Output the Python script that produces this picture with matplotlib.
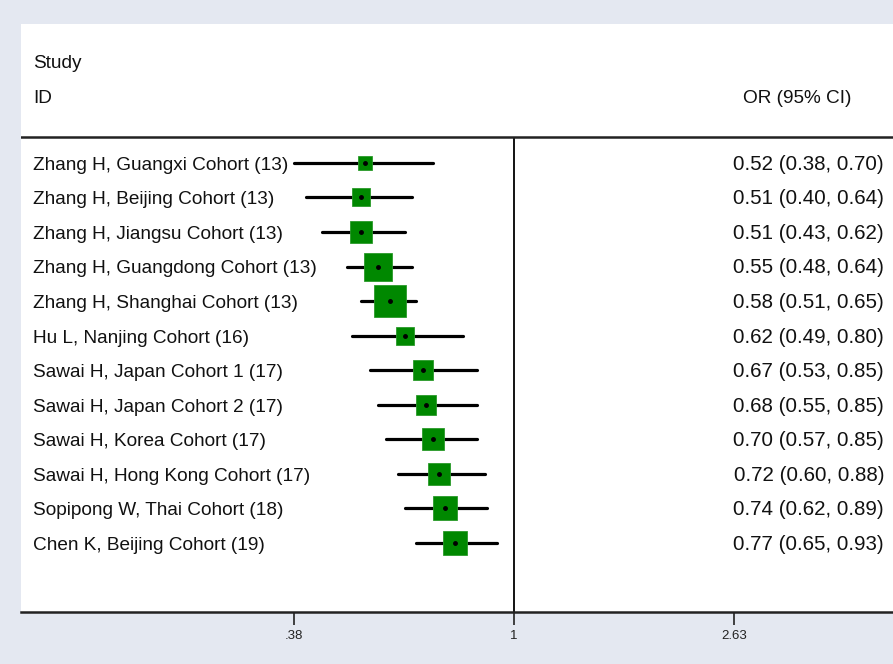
import numpy as np
import matplotlib
matplotlib.use("Agg")
import matplotlib.pyplot as plt
import matplotlib.transforms as mtransforms

plt.rcParams['font.family'] = ['Liberation Sans', 'DejaVu Sans']

# Study data
studies = [
    "Zhang H, Guangxi Cohort (13)",
    "Zhang H, Beijing Cohort (13)",
    "Zhang H, Jiangsu Cohort (13)",
    "Zhang H, Guangdong Cohort (13)",
    "Zhang H, Shanghai Cohort (13)",
    "Hu L, Nanjing Cohort (16)",
    "Sawai H, Japan Cohort 1 (17)",
    "Sawai H, Japan Cohort 2 (17)",
    "Sawai H, Korea Cohort (17)",
    "Sawai H, Hong Kong Cohort (17)",
    "Sopipong W, Thai Cohort (18)",
    "Chen K, Beijing Cohort (19)",
]
odds_ratio = [0.52, 0.51, 0.51, 0.55, 0.58, 0.62, 0.67, 0.68, 0.70, 0.72, 0.74, 0.77]
ci_lower = [0.38, 0.40, 0.43, 0.48, 0.51, 0.49, 0.53, 0.55, 0.57, 0.60, 0.62, 0.65]
ci_upper = [0.70, 0.64, 0.62, 0.64, 0.65, 0.80, 0.85, 0.85, 0.85, 0.88, 0.89, 0.93]
weight_pct = [3.7, 5.4, 8.7, 12.9, 16.9, 4.8, 6.0, 6.6, 8.0, 8.0, 9.5, 9.5]
tick_values = [0.38, 1.0, 2.63]
tick_labels = [".38", "1", "2.63"]

W, H = 893, 664
fig = plt.figure(figsize=(W / 100, H / 100), dpi=100)
fig.patch.set_facecolor("#E4E8F1")

left, right, top, bottom = 21, 893, 24, 612
ax = fig.add_axes([left / W, (H - bottom) / H, (right - left) / W, (bottom - top) / H])
ax.set_facecolor("white")

ax.set_xscale("log")
# x range chosen so that the OR scale is centred on 1
lo = np.exp((left - 514) / 227.5)
hi = np.exp((right - 514) / 227.5)
ax.set_xlim(lo, hi)

n = len(studies)
rows = np.arange(1, n + 1)
ax.set_ylim(14.0, -3.02)

# confidence intervals
ax.hlines(rows, ci_lower, ci_upper, color="black", lw=2.3, zorder=2, capstyle="round")
# weighted boxes
sizes = 5.6 * np.sqrt(weight_pct)
for r, o, s in zip(rows, odds_ratio, sizes):
    ax.plot(o, r, marker="s", ms=s, color="#008800", mec="#2A9A2A", mew=0.6, zorder=3)
ax.plot(odds_ratio, rows, "o", ms=2.5, color="black", zorder=4, lw=0)

# null line and header separator
ax.vlines(1.0, 0.25, 14.0, color="black", lw=1.3, zorder=1)
ax.axhline(0.25, color="#222222", lw=1.8, zorder=1)

tr = mtransforms.blended_transform_factory(ax.transAxes, ax.transData)
fs = 13.7
vfs = 14.8
base = 0.2  # baseline offset so caps sit centred on each row
txt = "#111111"
ax.text(12 / 872, -1.95 + base, "Study", transform=tr, fontsize=fs, va="baseline", ha="left", color=txt)
ax.text(12 / 872, -0.94 + base, "ID", transform=tr, fontsize=fs, va="baseline", ha="left", color=txt)
ax.text((743 - 21) / 872, -0.94 + base, "OR (95% CI)", transform=tr, fontsize=fs,
        va="baseline", ha="left", color=txt)
for r, name, o, l, u in zip(rows, studies, odds_ratio, ci_lower, ci_upper):
    ax.text(12 / 872, r + base, name, transform=tr, fontsize=fs, va="baseline", ha="left", color=txt)
    ax.text((884 - 21) / 872, r + base, f"{o:.2f} ({l:.2f}, {u:.2f})", transform=tr,
            fontsize=vfs, va="baseline", ha="right", color=txt)

for s in ["top", "right", "left"]:
    ax.spines[s].set_visible(False)
ax.spines["bottom"].set_linewidth(1.8)
ax.spines["bottom"].set_color("#222222")
ax.set_yticks([])
ax.set_xticks(tick_values)
ax.set_xticklabels(tick_labels)
ax.xaxis.set_minor_locator(matplotlib.ticker.NullLocator())
ax.tick_params(axis="x", length=9, width=1.2, colors="#222222", labelsize=9.5, pad=4,
               labelcolor="#222222")

fig.savefig("out.png", dpi=100, facecolor=fig.get_facecolor())
